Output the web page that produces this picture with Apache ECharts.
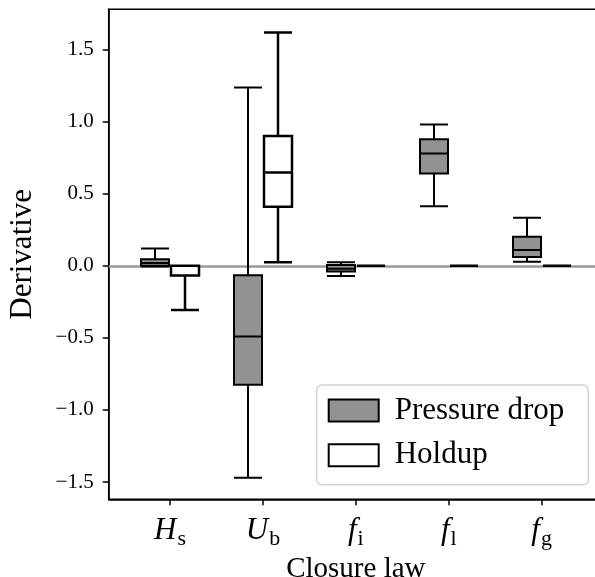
<!DOCTYPE html>
<html>
<head>
<meta charset="utf-8">
<script src="https://cdn.jsdelivr.net/npm/echarts@6/dist/echarts.min.js"></script>
<style>
  html, body { margin: 0; padding: 0; background: #fff; }
  #chart { width: 595px; height: 577px; }
</style>
</head>
<body>
<div id="chart"></div>
<script>
// Closure laws (symbol, subscript)
const categories = [['H', 's'], ['U', 'b'], ['f', 'i'], ['f', 'l'], ['f', 'g']];

// Box statistics per closure law: [min, Q1, median, Q3, max]
const pressureDrop = [
  [-0.005, 0.0, 0.02, 0.045, 0.12],
  [-1.47, -0.825, -0.49, -0.065, 1.237],
  [-0.07, -0.04, -0.02, 0.005, 0.024],
  [0.414, 0.64, 0.779, 0.879, 0.98],
  [0.028, 0.062, 0.109, 0.201, 0.333]
];
const holdup = [
  [-0.307, -0.067, 0.0, 0.0, 0.0],
  [0.024, 0.41, 0.648, 0.90, 1.619],
  [0, 0, 0, 0, 0],
  [0, 0, 0, 0, 0],
  [0, 0, 0, 0, 0]
];

const yTicks = [-1.5, -1.0, -0.5, 0.0, 0.5, 1.0, 1.5];
const yMin = -1.62, yMax = 1.78;

const FONT = 'Liberation Serif';
const catIndex = categories.map((c, i) => i);

const chart = echarts.init(document.getElementById('chart'), null, { renderer: 'canvas' });

const PLOT_TOP = 9.3, PLOT_H = 490;
const frameLeft = 108.7, frameW = 494.3;
const band = 93, shift = 15;
const catLeft = frameLeft + 61.3 - band / 2;

function hiddenY(gridIndex) {
  return { type: 'value', gridIndex, min: yMin, max: yMax, show: false };
}
function hiddenX(gridIndex) {
  return { type: 'category', gridIndex, data: categories.map(c => c.join('')), show: false };
}

const boxBase = {
  type: 'boxplot',
  boxWidth: [28, 28],
  z: 3,
  silent: true,
  emphasis: { disabled: true }
};

const gridBase = { top: PLOT_TOP, height: PLOT_H, outerBoundsMode: 'none', containLabel: false };

chart.setOption({
  animation: false,
  backgroundColor: '#fff',
  grid: [
    Object.assign({ left: frameLeft, width: frameW, show: true,
      borderColor: '#000', borderWidth: 1.5, backgroundColor: 'transparent' }, gridBase),
    Object.assign({ left: catLeft - shift, width: band * 5 }, gridBase),
    Object.assign({ left: catLeft + shift, width: band * 5 }, gridBase)
  ],
  xAxis: [
    {
      type: 'value', gridIndex: 0, min: -0.66, max: 4.66,
      name: 'Closure law', nameLocation: 'middle', nameGap: 50,
      nameTextStyle: { fontFamily: FONT, fontSize: 29, color: '#000' },
      axisLine: { show: true, onZero: false, lineStyle: { color: '#000', width: 1.5 } },
      axisTick: { show: true, customValues: catIndex, length: 6, lineStyle: { color: '#000', width: 1.5 } },
      splitLine: { show: false },
      axisLabel: {
        customValues: catIndex, margin: 20,
        formatter: v => {
          const c = categories[Math.round(v)];
          return c ? '{i|' + c[0] + '}{s|' + c[1] + '}' : '';
        },
        rich: {
          i: { fontFamily: FONT, fontStyle: 'italic', fontSize: 31, lineHeight: 31, color: '#000',
               verticalAlign: 'bottom', padding: [0, 1, 4, 0] },
          s: { fontFamily: FONT, fontSize: 22, lineHeight: 22, color: '#000', verticalAlign: 'bottom' }
        }
      }
    },
    hiddenX(1),
    hiddenX(2)
  ],
  yAxis: [
    {
      type: 'value', gridIndex: 0, min: yMin, max: yMax,
      name: 'Derivative', nameLocation: 'middle', nameGap: 70, nameRotate: 90,
      nameTextStyle: { fontFamily: FONT, fontSize: 31, color: '#000' },
      axisLine: { show: true, onZero: false, lineStyle: { color: '#000', width: 1.5 } },
      axisTick: { show: true, customValues: yTicks, length: 6, lineStyle: { color: '#000', width: 1.5 } },
      splitLine: { show: false },
      axisLabel: {
        customValues: yTicks, margin: 15,
        fontFamily: FONT, fontSize: 21, color: '#000',
        formatter: v => (v < 0 ? '\u2212' : '') + Math.abs(v).toFixed(1)
      }
    },
    hiddenY(1),
    hiddenY(2)
  ],
  legend: {
    orient: 'vertical',
    left: 316.7, top: 385,
    backgroundColor: '#fff',
    borderColor: '#d0d0d0', borderWidth: 1.5, borderRadius: 5,
    padding: [8, 24, 12, 11],
    itemWidth: 50, itemHeight: 22, itemGap: 9.7,
    selectedMode: false,
    textStyle: { fontFamily: FONT, fontSize: 31, color: '#000', lineHeight: 35, padding: [0, 0, 0, 11] },
    data: [
      { name: 'Pressure drop', icon: 'rect', itemStyle: { color: '#929292', borderColor: '#000', borderWidth: 2 } },
      { name: 'Holdup', icon: 'rect', itemStyle: { color: '#fff', borderColor: '#000', borderWidth: 2 } }
    ]
  },
  series: [
    {
      // zero reference line across the whole plot, kept beneath the boxes
      type: 'line', xAxisIndex: 0, yAxisIndex: 0, data: [], z: 1, silent: true,
      markLine: {
        z: 1,
        silent: true, symbol: 'none', label: { show: false },
        lineStyle: { color: '#9a9a9a', width: 2.5, type: 'solid' },
        data: [{ yAxis: 0 }]
      }
    },
    Object.assign({}, boxBase, {
      name: 'Pressure drop', xAxisIndex: 1, yAxisIndex: 1, data: pressureDrop,
      itemStyle: { color: '#929292', borderColor: '#000', borderWidth: 2 }
    }),
    Object.assign({}, boxBase, {
      name: 'Holdup', xAxisIndex: 2, yAxisIndex: 2, data: holdup,
      itemStyle: { color: '#fff', borderColor: '#000', borderWidth: 2.5 }
    })
  ]
});
</script>
</body>
</html>
